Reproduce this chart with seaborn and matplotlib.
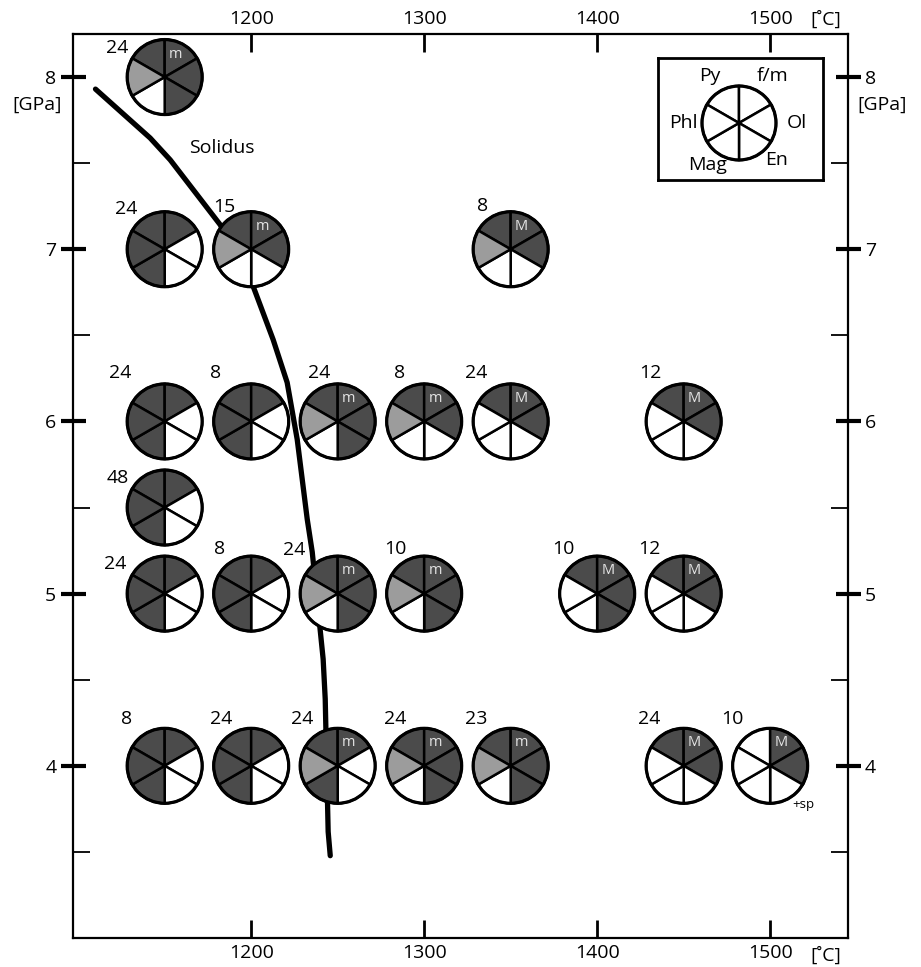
import numpy as np
import pandas as pd
import matplotlib
matplotlib.use("Agg")
import matplotlib.pyplot as plt
import seaborn as sns
from matplotlib.patches import Wedge, Circle
import matplotlib.transforms as mtransforms

# ---------------- data ----------------
temps = [1150,
         1150, 1200, 1350,
         1150, 1200, 1250, 1300, 1350, 1450,
         1150,
         1150, 1200, 1250, 1300, 1400, 1450,
         1150, 1200, 1250, 1300, 1350, 1450, 1500]
pressures = [8,
             7, 7, 7,
             6, 6, 6, 6, 6, 6,
             5.5,
             5, 5, 5, 5, 5, 5,
             4, 4, 4, 4, 4, 4, 4]
durations = [24,
             24, 15, 8,
             24, 8, 24, 8, 24, 12,
             48,
             24, 8, 24, 10, 10, 12,
             8, 24, 24, 24, 23, 24, 10]
# phase state per sector, order: Py, f/m, Ol, En, Mag, Phl
# D = dark (present), L = light grey, W = absent
phase_codes = ["DDDDWL",
               "DDWWDD", "DDDWWL", "DDDWWL",
               "DDWWDD", "DDWWDD", "DDDDWL", "DDDWWL", "DDDWWW", "DDDWWW",
               "DDWWDD",
               "DDWWDD", "DDWWDD", "DDDDWL", "DDDDWL", "DDDDWW", "DDDWWW",
               "DDWWDD", "DDWWDD", "DDWWDL", "DDDDWL", "DDDDWL", "DDDWWW", "WDDWWW"]
melt_marks = ["m",
              "", "m", "M",
              "", "", "m", "m", "M", "M",
              "",
              "", "", "m", "m", "M", "M",
              "", "", "m", "m", "m", "M", "M"]
extra_notes = {23: "+sp"}

phase_names = ["Py", "f/m", "Ol", "En", "Mag", "Phl"]

solidus_T = [1110, 1141.6, 1153.2, 1182.1, 1201.2, 1212.7, 1220.8,
             1226.6, 1229.5, 1232.4, 1235.3, 1241.6, 1242.8, 1244.5, 1245.7]
solidus_P = [7.93, 7.646, 7.519, 7.142, 6.783, 6.475, 6.226,
             5.896, 5.664, 5.432, 5.241, 4.620, 4.388, 3.617, 3.478]

x_ticks = [1200, 1300, 1400, 1500]
y_ticks = [4, 5, 6, 7, 8]
y_minor = [3.5, 4.5, 5.5, 6.5, 7.5]

# ---------------- layout / style ----------------
# label offsets in pixels (right edge dx, centre dy downwards)
label_offsets = [(-36, -29),
                 (-27, -40), (-16, -42), (-23, -43),
                 (-33, -48), (-30, -48), (-7, -48), (-19, -48), (-23, -48), (-22, -48),
                 (-36, -30),
                 (-38, -30), (-26, -45), (-32, -44), (-18, -45), (-23, -45), (-23, -45),
                 (-33, -47), (-19, -47), (-24, -47), (-18, -47), (-23, -47), (-23, -47), (-27, -47)]

sector_angles = {"Py": (90, 150), "f/m": (30, 90), "Ol": (-30, 30),
                 "En": (-90, -30), "Mag": (-150, -90), "Phl": (150, 210)}
fill_colors = {"D": "#4b4b4b", "L": "#9c9c9c", "W": "white"}

sns.set_theme(style="white")
plt.rcParams["font.family"] = ["Open Sans", "DejaVu Sans"]
plt.rcParams["text.color"] = "black"
plt.rcParams["xtick.color"] = "black"
plt.rcParams["ytick.color"] = "black"
plt.rcParams["xtick.labelcolor"] = "black"
plt.rcParams["ytick.labelcolor"] = "black"

W, H = 921, 967
fig = plt.figure(figsize=(W / 100, H / 100), dpi=100)
ax = fig.add_axes([73 / W, 29 / H, 775 / W, 904 / H])
ax.set_xlim(1097, 1545)
ax.set_ylim(3.0, 8.25)

for sp in ax.spines.values():
    sp.set_linewidth(1.6)
    sp.set_color("black")

# solidus
sol = pd.DataFrame({"T": solidus_T, "P": solidus_P})
sns.lineplot(data=sol, x="T", y="P", sort=False, color="black", lw=3.8,
             ax=ax, zorder=2)
ax.set_xlabel("")
ax.set_ylabel("")
ax.text(1183, 7.59, "Solidus", fontsize=14, ha="center", va="center",
        color="black")

R = 0.375  # inches (≈37.5 px)
for i, (T, P, code) in enumerate(zip(temps, pressures, phase_codes)):
    trans = fig.dpi_scale_trans + mtransforms.ScaledTranslation(T, P, ax.transData)
    for ph, c in zip(phase_names, code):
        t1, t2 = sector_angles[ph]
        ax.add_patch(Wedge((0, 0), R, t1, t2, facecolor=fill_colors[c],
                           edgecolor="black", lw=1.8, transform=trans, zorder=3))
    ax.add_patch(Circle((0, 0), R, fill=False, lw=2.3, edgecolor="black",
                        transform=trans, zorder=4))
    dx, dy = label_offsets[i]
    ax.annotate(str(durations[i]), xy=(T, P), xytext=(dx, -dy),
                textcoords="offset pixels", ha="right", va="center",
                fontsize=14, color="black", zorder=5)
    if melt_marks[i]:
        ax.annotate(melt_marks[i], xy=(T, P), xytext=(11, 23),
                    textcoords="offset pixels", ha="center", va="center",
                    fontsize=10.5, color="#e4e4e4", zorder=5)
    if i in extra_notes:
        ax.annotate(extra_notes[i], xy=(T, P), xytext=(33, -39),
                    textcoords="offset pixels", ha="center", va="center",
                    fontsize=9.5, color="black", zorder=5)

# ticks
ax.set_xticks(x_ticks)
ax.set_xticklabels([str(t) for t in x_ticks])
ax.set_yticks(y_ticks)
ax.set_yticklabels([str(t) for t in y_ticks])
ax.set_yticks(y_minor, minor=True)
ax.tick_params(axis="x", which="major", direction="in", length=13, width=2,
               top=True, bottom=True, labeltop=True, labelbottom=True,
               labelsize=14, pad=4, color="black", labelcolor="black")
ax.tick_params(axis="y", which="major", direction="inout", length=18, width=3,
               left=True, right=True, labelleft=True, labelright=True,
               labelsize=14, pad=3, color="black", labelcolor="black")
ax.tick_params(axis="y", which="minor", direction="in", length=12, width=1.3,
               left=True, right=True, color="black")

# unit labels
ax.annotate("[GPa]", xy=(0, 8), xycoords=("axes fraction", "data"),
            xytext=(-36, -28), textcoords="offset pixels",
            ha="center", va="center", fontsize=14, color="black")
ax.annotate("[GPa]", xy=(1, 8), xycoords=("axes fraction", "data"),
            xytext=(34, -28), textcoords="offset pixels",
            ha="center", va="center", fontsize=14, color="black")
ax.annotate("[˚C]", xy=(1532, 1), xycoords=("data", "axes fraction"),
            xytext=(0, 14), textcoords="offset pixels",
            ha="center", va="center", fontsize=14, color="black")
ax.annotate("[˚C]", xy=(1532, 0), xycoords=("data", "axes fraction"),
            xytext=(0, -18), textcoords="offset pixels",
            ha="center", va="center", fontsize=14, color="black")

# key box
lx0, ly0, lx1, ly1 = 658, 58, 823, 180
kax = fig.add_axes([lx0 / W, 1 - ly1 / H, (lx1 - lx0) / W, (ly1 - ly0) / H])
kax.set_xlim(0, lx1 - lx0)
kax.set_ylim(0, ly1 - ly0)
kax.set_xticks([])
kax.set_yticks([])
kax.set_facecolor("white")
for sp in kax.spines.values():
    sp.set_linewidth(2)
    sp.set_color("black")
kc = (739 - lx0, ly1 - 123)
ktrans = fig.dpi_scale_trans + mtransforms.ScaledTranslation(kc[0], kc[1], kax.transData)
for ph in phase_names:
    t1, t2 = sector_angles[ph]
    kax.add_patch(Wedge((0, 0), 0.37, t1, t2, facecolor="white",
                        edgecolor="black", lw=1.8, transform=ktrans))
kax.add_patch(Circle((0, 0), 0.37, fill=False, lw=2.3, edgecolor="black",
                     transform=ktrans))
key_pos = {"Py": (710, 76), "f/m": (773, 76), "Phl": (683, 123),
           "Ol": (797, 123), "Mag": (708, 165), "En": (777, 160)}
for ph, (px, py) in key_pos.items():
    kax.text(px - lx0, ly1 - py, ph, ha="center", va="center", fontsize=14,
             color="black")

fig.savefig("out.png", dpi=100)
